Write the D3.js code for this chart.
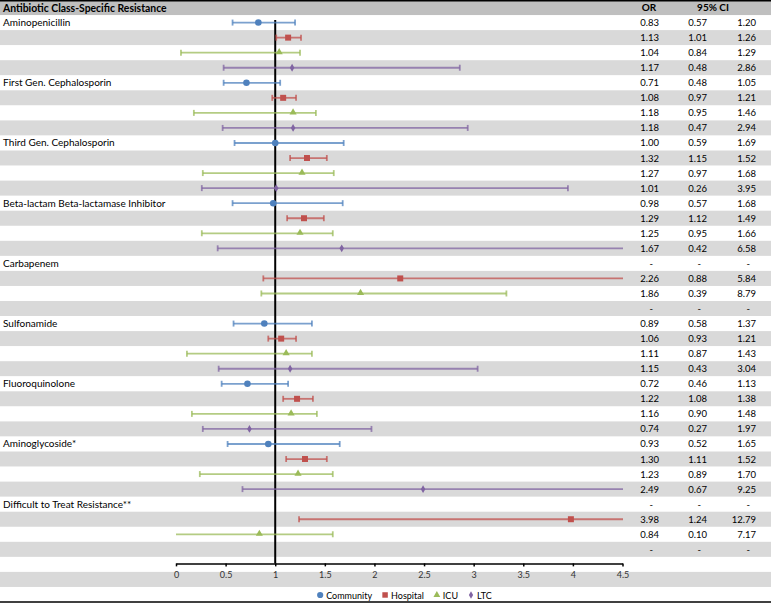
<!DOCTYPE html>
<html>
<head>
<meta charset="utf-8">
<script src="https://cdn.jsdelivr.net/npm/d3@7"></script>
<style>
  html, body { margin: 0; padding: 0; background: #fff; }
  svg { display: block; font-family: Lato, "Open Sans", sans-serif; }
</style>
</head>
<body>
<svg id="chart" width="771" height="603"></svg>
<script>
// ---------------- data ----------------
const title = "Antibiotic Class-Specific Resistance";
const categories = [
  "Aminopenicillin", "First Gen. Cephalosporin", "Third Gen. Cephalosporin",
  "Beta-lactam Beta-lactamase Inhibitor", "Carbapenem", "Sulfonamide",
  "Fluoroquinolone", "Aminoglycoside*", "Difficult to Treat Resistance**"
];
const seriesNames = ["Community", "Hospital", "ICU", "LTC"];

// odds ratios and 95% CI (table values); null = not available
const communityOR = [0.83, 0.71, 1.00, 0.98, null, 0.89, 0.72, 0.93, null];
const communityLo = [0.57, 0.48, 0.59, 0.57, null, 0.58, 0.46, 0.52, null];
const communityHi = [1.20, 1.05, 1.69, 1.68, null, 1.37, 1.13, 1.65, null];

const hospitalOR = [1.13, 1.08, 1.32, 1.29, 2.26, 1.06, 1.22, 1.30, 3.98];
const hospitalLo = [1.01, 0.97, 1.15, 1.12, 0.88, 0.93, 1.08, 1.11, 1.24];
const hospitalHi = [1.26, 1.21, 1.52, 1.49, 5.84, 1.21, 1.38, 1.52, 12.79];

const icuOR = [1.04, 1.18, 1.27, 1.25, 1.86, 1.11, 1.16, 1.23, 0.84];
const icuLo = [0.84, 0.95, 0.97, 0.95, 0.39, 0.87, 0.90, 0.89, 0.10];
const icuHi = [1.29, 1.46, 1.68, 1.66, 8.79, 1.43, 1.48, 1.70, 7.17];
// ICU whiskers as they are drawn in the original figure
const icuDrawnLo = [0.05, 0.18, 0.27, 0.26, 0.86, 0.11, 0.16, 0.24, -0.16];
const icuDrawnHi = [1.25, 1.41, 1.59, 1.58, 3.33, 1.37, 1.42, 1.58, 1.58];

const ltcOR = [1.17, 1.18, 1.01, 1.67, null, 1.15, 0.74, 2.49, null];
const ltcLo = [0.48, 0.47, 0.26, 0.42, null, 0.43, 0.27, 0.67, null];
const ltcHi = [2.86, 2.94, 3.95, 6.58, null, 3.04, 1.97, 9.25, null];

const xTicks = [0, 0.5, 1, 1.5, 2, 2.5, 3, 3.5, 4, 4.5];
const colHeaders = ["OR", "95% CI"];

// ---------------- setup ----------------
const colors = { Community: "#4F81BD", Hospital: "#C0504D", ICU: "#9BBB59", LTC: "#8064A2" };
const symbols = { Community: d3.symbolCircle, Hospital: d3.symbolSquare, ICU: d3.symbolTriangle, LTC: d3.symbolDiamond };
const symSize = { Community: 34, Hospital: 36, ICU: 22, LTC: 18 };

const series = [
  { name: "Community", or: communityOR, lo: communityLo, hi: communityHi, dlo: communityLo, dhi: communityHi },
  { name: "Hospital", or: hospitalOR, lo: hospitalLo, hi: hospitalHi, dlo: hospitalLo, dhi: hospitalHi },
  { name: "ICU", or: icuOR, lo: icuLo, hi: icuHi, dlo: icuDrawnLo, dhi: icuDrawnHi },
  { name: "LTC", or: ltcOR, lo: ltcLo, hi: ltcHi, dlo: ltcLo, dhi: ltcHi }
];

// one row per category x series
const rows = [];
categories.forEach((c, ci) => {
  series.forEach((s, si) => {
    rows.push({
      cat: c, label: si === 0 ? c : "", series: s.name,
      or: s.or[ci], lo: s.lo[ci], hi: s.hi[ci], dlo: s.dlo[ci], dhi: s.dhi[ci]
    });
  });
});

const W = 771, H = 603;
const nRows = rows.length + 4; // header + data + axis + ticks + legend
const y = d3.scaleBand().domain(d3.range(nRows)).range([0, 602]).paddingInner(0);
const rh = y.bandwidth();
const x = d3.scaleLinear().domain([0, 4.5]).range([176, 622.5]);

const svg = d3.select("#chart");

// stripes
svg.append("g").selectAll("rect")
  .data(d3.range(1, nRows))
  .join("rect")
  .attr("x", 0).attr("width", W)
  .attr("y", d => y(d)).attr("height", rh + 0.3)
  .attr("fill", d => d % 2 === 0 ? "#D9D9D9" : "#FFFFFF");

// header
svg.append("rect").attr("x", 0).attr("y", 0).attr("width", W).attr("height", rh).attr("fill", "#BFBFBF");
svg.append("line").attr("x1", 0).attr("x2", W).attr("y1", 0.75).attr("y2", 0.75).attr("stroke", "#000").attr("stroke-width", 1.5);
svg.append("line").attr("x1", 0).attr("x2", W).attr("y1", 602).attr("y2", 602).attr("stroke", "#000").attr("stroke-width", 1.5);

svg.append("text").attr("x", 3).attr("y", y(0) + rh / 2 + 4)
  .attr("font-size", 10.4).attr("font-weight", "bold").attr("fill", "#000").text(title);
svg.append("text").attr("x", 649).attr("y", y(0) + rh / 2 + 3.5).attr("text-anchor", "middle")
  .attr("font-size", 10).attr("font-weight", "bold").text(colHeaders[0]);
svg.append("text").attr("x", 713).attr("y", y(0) + rh / 2 + 3.5).attr("text-anchor", "middle")
  .attr("font-size", 10).attr("font-weight", "bold").text(colHeaders[1]);

// row labels
svg.append("g").selectAll("text")
  .data(rows.map((r, i) => ({ r, i })).filter(d => d.r.label))
  .join("text")
  .attr("x", 3).attr("y", d => y(d.i + 1) + rh / 2 + 3.5)
  .attr("font-size", 10).attr("fill", "#000")
  .text(d => d.r.label);

// table columns
const fmt = d3.format(".2f");
const cols = [ { key: "or", right: 659 }, { key: "lo", right: 707 }, { key: "hi", right: 756 } ];
const tg = svg.append("g").attr("font-size", 9.5).attr("fill", "#000");
cols.forEach(col => {
  tg.append("g").selectAll("text")
    .data(rows.map((r, i) => ({ r, i })))
    .join("text")
    .attr("text-anchor", "end")
    .attr("x", d => d.r[col.key] == null ? col.right - 6 : col.right)
    .attr("y", d => y(d.i + 1) + rh / 2 + 3.5)
    .text(d => d.r[col.key] == null ? "-" : fmt(d.r[col.key]));
});

// clip for plot area
svg.append("defs").append("clipPath").attr("id", "plotclip")
  .append("rect").attr("x", x(0)).attr("y", 0).attr("width", x(4.5) - x(0) + 0.5).attr("height", H);

// reference line at OR = 1
const axisY = y(rows.length + 1) + rh / 2 - 1;
svg.append("line").attr("x1", x(1)).attr("x2", x(1))
  .attr("y1", y(1) + 5).attr("y2", axisY)
  .attr("stroke", "#000").attr("stroke-width", 2);

// error bars
const plot = svg.append("g").attr("clip-path", "url(#plotclip)");
const capH = 3;
rows.forEach((r, i) => {
  if (r.or == null) return;
  const cy = y(i + 1) + rh / 2;
  const col = colors[r.series];
  const g = plot.append("g").attr("stroke", col).attr("stroke-opacity", 0.75).attr("stroke-width", 1.8);
  g.append("line").attr("x1", x(r.dlo)).attr("x2", x(r.dhi)).attr("y1", cy).attr("y2", cy);
  [r.dlo, r.dhi].forEach(v => {
    if (v >= 0 && v <= 4.5) {
      g.append("line").attr("x1", x(v)).attr("x2", x(v)).attr("y1", cy - capH).attr("y2", cy + capH);
    }
  });
});
// markers
plot.append("g").selectAll("path")
  .data(rows.map((r, i) => ({ r, i })).filter(d => d.r.or != null))
  .join("path")
  .attr("transform", d => `translate(${x(d.r.or)},${y(d.i + 1) + rh / 2 + (d.r.series === "ICU" ? -0.5 : 0)})`)
  .attr("d", d => d3.symbol().type(symbols[d.r.series]).size(symSize[d.r.series])())
  .attr("fill", d => colors[d.r.series]);

// x axis
const axis = d3.axisBottom(x).tickValues(xTicks).tickSize(3).tickSizeOuter(0).tickPadding(5)
  .tickFormat(d3.format("~g"));
const ag = svg.append("g").attr("transform", `translate(0,${axisY})`).call(axis);
ag.select(".domain").attr("stroke", "#000").attr("stroke-width", 1.5);
ag.selectAll(".tick line").attr("stroke", "#000").attr("stroke-width", 1.5);
ag.selectAll(".tick text").attr("font-size", 9).attr("font-family", "Lato, sans-serif").attr("fill", "#333");

// legend
const legY = y(nRows - 1) + rh / 2 + 1;
const lg = svg.append("g").attr("font-size", 9);
let lx = 0;
const items = [];
seriesNames.forEach(n => {
  const it = lg.append("g");
  it.append("path").attr("d", d3.symbol().type(symbols[n]).size(n === "ICU" ? 20 : (n === "LTC" ? 16 : 30))())
    .attr("transform", `translate(4,${-0.5})`).attr("fill", colors[n]);
  const t = it.append("text").attr("x", 10).attr("y", 3.2).attr("fill", "#000").text(n);
  const w = 10 + t.node().getComputedTextLength();
  items.push({ it, w });
});
const gap = 9;
const total = d3.sum(items, d => d.w) + gap * (items.length - 1);
lx = 404 - total / 2;
items.forEach(d => { d.it.attr("transform", `translate(${lx},${legY})`); lx += d.w + gap; });
</script>
</body>
</html>
